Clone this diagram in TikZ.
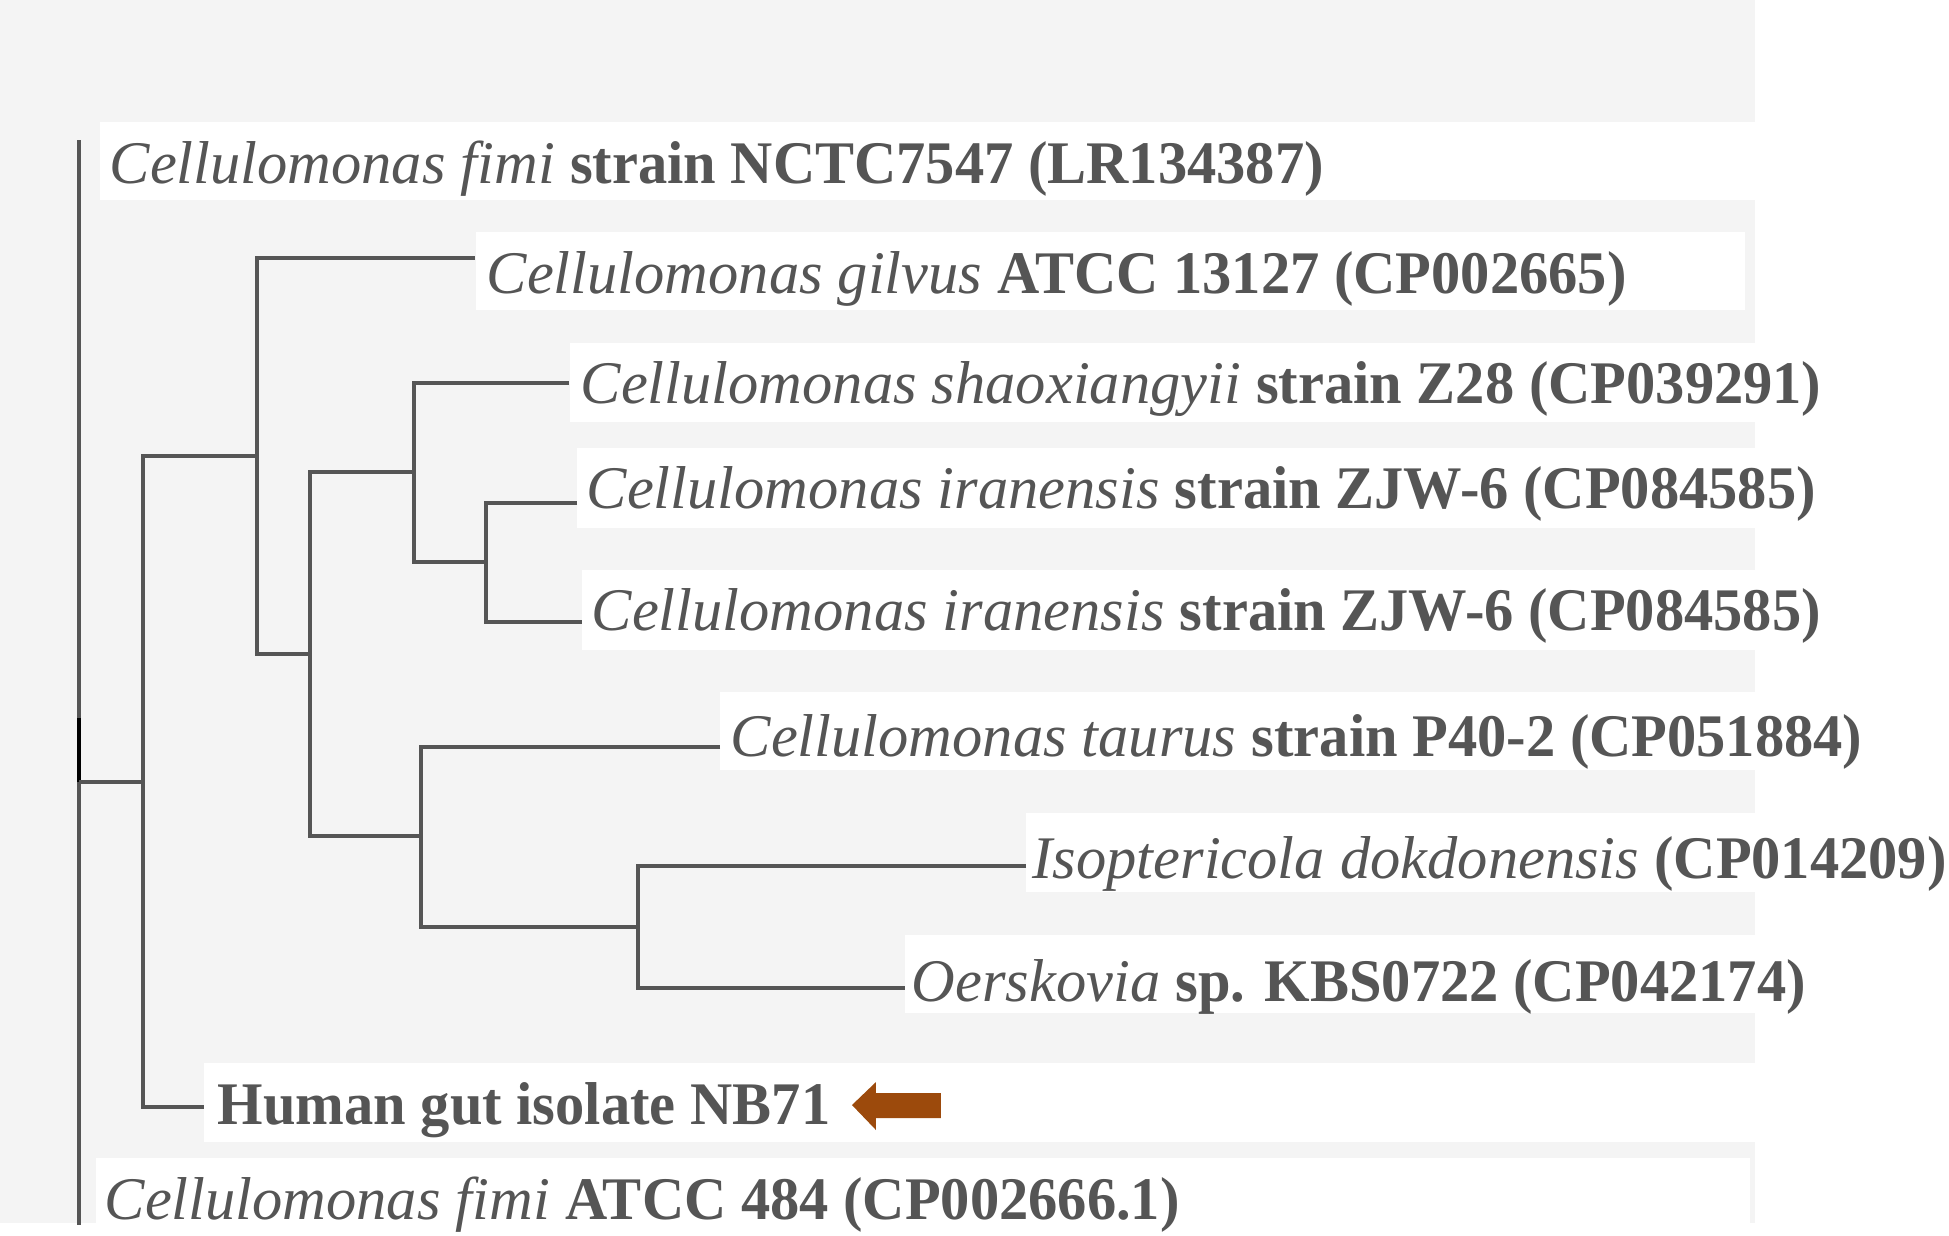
\documentclass[tikz,border=0pt]{standalone}
\usepackage{fontspec}
\setmainfont{Liberation Serif}[BoldFeatures={FakeStretch=0.967}]
\usetikzlibrary{calc}
\definecolor{panelgrey}{HTML}{F4F4F4}
\definecolor{inkgrey}{HTML}{555555}
\definecolor{markbrown}{HTML}{9C4A0C}

\begin{document}
\begin{tikzpicture}[%
        x=0.01cm, y=-0.01cm,%
        branch/.style={draw=inkgrey, line width=1.15pt},%
        leaf/.style={anchor=base west, inner sep=0pt, text=inkgrey,%
            font=\fontsize{17.2}{20}\selectfont}%
    ]
        \useasboundingbox (0,0) rectangle (1949,1235);%

        %
        % Fond
        %
        \fill[panelgrey] (0,0) rectangle (1755,1223);%
        \foreach \xa/\ya/\xb/\yb in {100/122/1949/200, 476/232/1745/310,%
            570/343/1949/422, 577/448/1949/528, 582/570/1949/650,%
            720/692/1949/770, 1026/813/1949/892, 905/935/1949/1013,%
            204/1063/1949/1142, 96/1158/1750/1223} {%
            \fill[white] (\xa,\ya) rectangle (\xb,\yb);%
        }%

        %
        % Etiquettes
        %
        \foreach \n/\x/\y/\t in {%
            1/109/183/{\textit{Cellulomonas fimi} \textbf{strain NCTC7547 (LR134387)}},%
            2/486/293/{\textit{Cellulomonas gilvus} \textbf{ATCC 13127 (CP002665)}},%
            3/580/403/{\textit{Cellulomonas shaoxiangyii} \textbf{strain Z28 (CP039291)}},%
            4/586/508/{\textit{Cellulomonas iranensis} \textbf{strain ZJW-6 (CP084585)}},%
            5/591/630/{\textit{Cellulomonas iranensis} \textbf{strain ZJW-6 (CP084585)}},%
            6/730/756/{\textit{Cellulomonas taurus} \textbf{strain P40-2 (CP051884)}},%
            7/1032/878/{\textit{Isoptericola dokdonensis} \textbf{(CP014209)}},%
            8/911/1001/{\textit{Oerskovia} \textbf{sp. KBS0722 (CP042174)}},%
            9/217/1124/{\textbf{Human gut isolate NB71}},%
            10/104/1219/{\textit{Cellulomonas fimi} \textbf{ATCC 484 (CP002666.1)}}} {%
            \node[leaf] (label \n) at (\x,\y) {\t};%
        }%

        %
        % Arbre
        %
        % Feuilles
        \foreach \n/\x/\y in {2/475/258, 3/569/383, 4/577/503, 5/582/622,%
            6/720/747, 7/1026/866, 8/905/988, 9/204/1107} {%
            \coordinate (tip \n) at (\x,\y);%
        }%
        % Noeuds internes
        \coordinate (root) at (79,782);%
        \coordinate (node A) at (143,782);%
        \coordinate (node B) at (257,456);%
        \coordinate (node C) at (310,654);%
        \coordinate (node D) at (414,472);%
        \coordinate (node E) at (486,562);%
        \coordinate (node F) at (421,836);%
        \coordinate (node G) at (638,927);%

        \draw[branch] (root) ++(0,-642) -- ++(0,1085);%
        \draw[line width=1.15pt, black] (root) -- ++(0,-64);%
        \draw[branch] (root) -- (node A);%
        \draw[branch] (node B) -| (node A) |- (tip 9);%
        \draw[branch] (tip 2) -| (node B) |- (node C);%
        \draw[branch] (node D) -| (node C) |- (node F);%
        \draw[branch] (tip 3) -| (node D) |- (node E);%
        \draw[branch] (tip 4) -| (node E) |- (tip 5);%
        \draw[branch] (tip 6) -| (node F) |- (node G);%
        \draw[branch] (tip 7) -| (node G) |- (tip 8);%

        % Fleche
        \coordinate (arrow tip) at ($(label 9.base east)+(21,-19)$);%
        \fill[markbrown] (arrow tip) -- ++(24,-23) -- ++(0,11) -- ++(65,0)%
            -- ++(0,25) -- ++(-65,0) -- ++(0,12) -- cycle;%
    \end{tikzpicture}
\end{document}
